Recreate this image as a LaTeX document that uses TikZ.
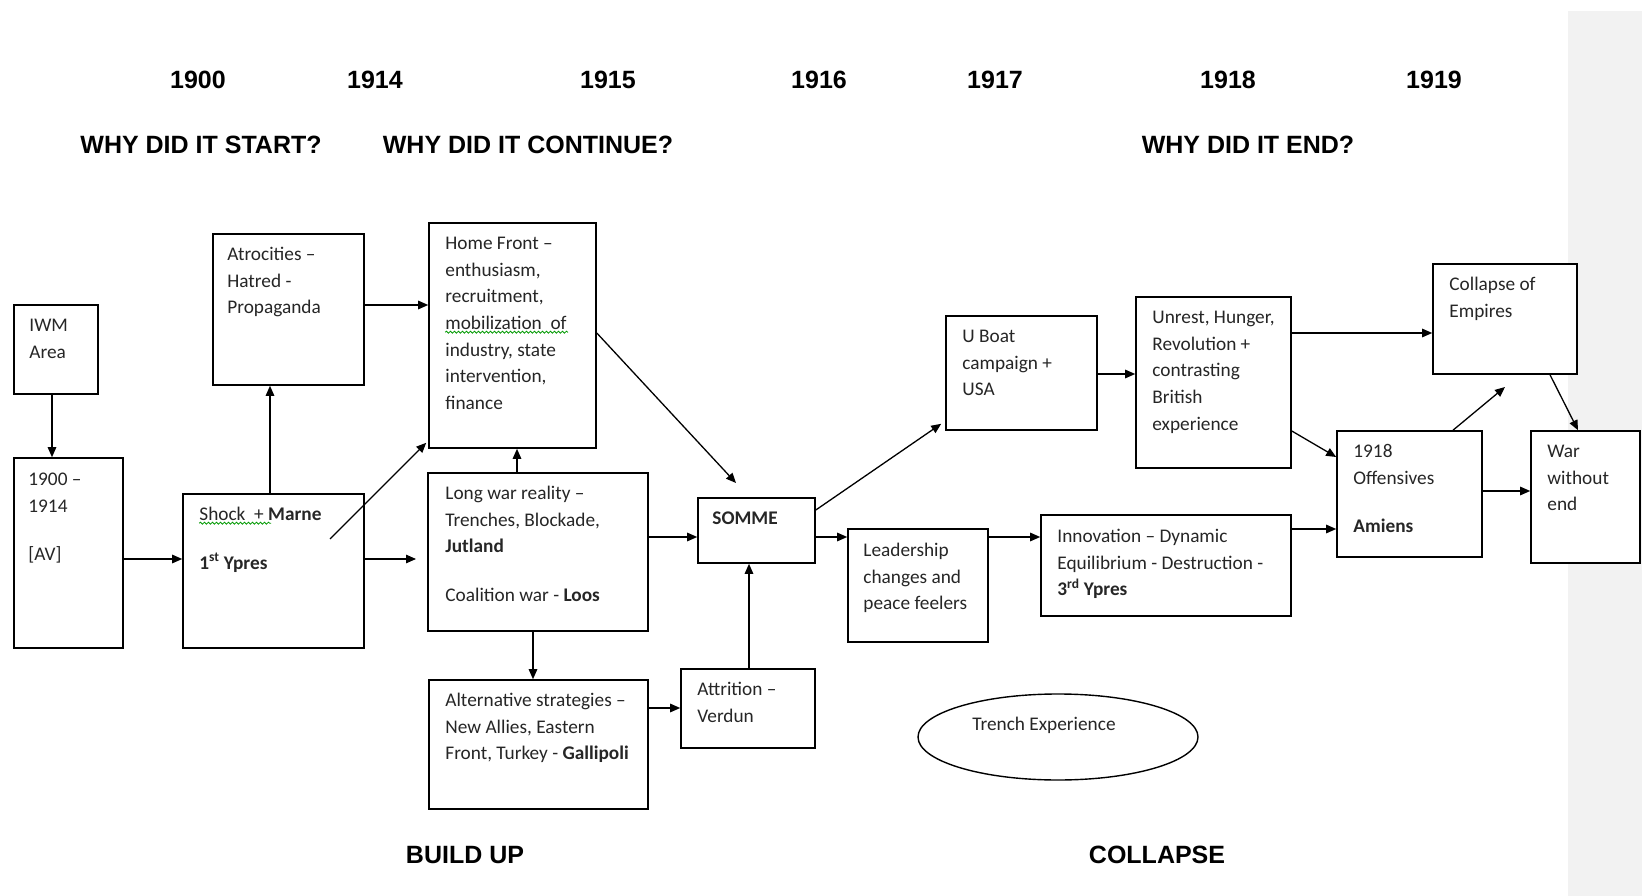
\documentclass[tikz,border=0pt]{standalone}
\usepackage{fontspec}
\setmainfont{Carlito}
\newfontfamily\headfont{Liberation Sans}
\usetikzlibrary{arrows.meta,calc,shapes.geometric,decorations.pathmorphing}
\definecolor{txtc}{HTML}{262626}
\definecolor{stripc}{HTML}{F2F2F2}
\newcommand{\fs}{\rule{0pt}{16pt}}
\begin{document}
\begin{tikzpicture}[x=1pt,y=-1pt,
  box/.style={draw=black, line width=1.6pt, fill=white, inner sep=0pt, rectangle},
  txt/.style={anchor=north west, align=left, inner sep=0pt, text=txtc, font=\fontsize{19.3}{26.7}\selectfont},
  head/.style={anchor=base, font=\headfont\bfseries\fontsize{25}{30}\selectfont, text=black, inner sep=0pt},
  arr/.style={line width=1.3pt, -{Triangle[length=10pt,width=8.5pt]}},
  squig/.style={draw=green!60!black, line width=0.8pt, decorate, decoration={snake, amplitude=1pt, segment length=4pt}}
]
\useasboundingbox (0,0) rectangle (1642,896);
\fill[stripc] (1568,11) rectangle (1642,896);

% headings
\node[head] (y1900) at (198,88.6) {1900};
\node[head] (y1914) at (375,88.6) {1914};
\node[head] (y1915) at (608,88.6) {1915};
\node[head] (y1916) at (819,88.6) {1916};
\node[head] (y1917) at (995,88.6) {1917};
\node[head] (y1918) at (1228,88.6) {1918};
\node[head] (y1919) at (1434,88.6) {1919};
\node[head] (hstart) at (201,153.5) {WHY DID IT START?};
\node[head] (hcont) at (528,153.5) {WHY DID IT CONTINUE?};
\node[head] (hend) at (1248,153.5) {WHY DID IT END?};
\node[head] (hbuild) at (465,863.5) {BUILD UP};
\node[head] (hcoll) at (1157,863.5) {COLLAPSE};

% boxes
\node[box, minimum width=84pt, minimum height=89pt] (iwm) at (56,349.5) {};
\node[box, minimum width=109pt, minimum height=190pt] (av) at (68.5,553) {};
\node[box, minimum width=181pt, minimum height=154pt] (shock) at (273.5,571) {};
\node[box, minimum width=151pt, minimum height=151pt] (atro) at (288.5,309.5) {};
\node[box, minimum width=167pt, minimum height=225pt] (home) at (512.5,335.5) {};
\node[box, minimum width=220pt, minimum height=158pt] (long) at (538,552) {};
\node[box, minimum width=219pt, minimum height=129pt] (alt) at (538.5,744.5) {};
\node[box, minimum width=117pt, minimum height=65pt] (somme) at (756.5,530.5) {};
\node[box, minimum width=134pt, minimum height=79pt] (attr) at (748,708.5) {};
\node[box, minimum width=151pt, minimum height=114pt] (uboat) at (1021.5,373) {};
\node[box, minimum width=140pt, minimum height=113pt] (lead) at (918,585.5) {};
\node[box, minimum width=155pt, minimum height=171pt] (unrest) at (1213.5,382.5) {};
\node[box, minimum width=250pt, minimum height=101pt] (innov) at (1166,565.5) {};
\node[box, minimum width=144pt, minimum height=110pt] (coll) at (1505,319) {};
\node[box, minimum width=145pt, minimum height=126pt] (off) at (1409.5,494) {};
\node[box, minimum width=109pt, minimum height=132pt] (war) at (1585.5,497) {};
\node[draw=black, line width=1.4pt, ellipse, fill=white, inner sep=0pt, minimum width=280pt, minimum height=86pt] (trench) at (1058,737) {};

% texts (first baseline about 27px below box top)
\node[txt] (tiwm) at ($(iwm.north west)+(16,11)$) {\fs IWM\\Area};
\node[txt] (tav) at ($(av.north west)+(15,12)$) {\fs 1900 –\\1914\\[22pt]{[AV]}};
\node[txt] (tshock) at ($(shock.north west)+(17,11)$) {\fs Shock\ \ + \textbf{Marne}\\[22pt]\textbf{1\textsuperscript{st} Ypres}};
\node[txt] (tatro) at ($(atro.north west)+(15,11)$) {\fs Atrocities –\\Hatred -\\Propaganda};
\node[txt] (thome) at ($(home.north west)+(17,11)$) {\fs Home Front –\\enthusiasm,\\recruitment,\\mobilization\ \ of\\industry, state\\intervention,\\finance};
\node[txt] (tlong) at ($(long.north west)+(18,11)$) {\fs Long war reality –\\Trenches, Blockade,\\\textbf{Jutland}\\[22pt]Coalition war - \textbf{Loos}};
\node[txt] (talt) at ($(alt.north west)+(17,11)$) {\fs Alternative strategies –\\New Allies, Eastern\\Front, Turkey - \textbf{Gallipoli}};
\node[txt] (tsomme) at ($(somme.north west)+(15,11)$) {\fs\textbf{SOMME}};
\node[txt] (tattr) at ($(attr.north west)+(17,11)$) {\fs Attrition –\\Verdun};
\node[txt] (tuboat) at ($(uboat.north west)+(17,11)$) {\fs U Boat\\campaign +\\USA};
\node[txt] (tlead) at ($(lead.north west)+(16,12)$) {\fs Leadership\\changes and\\peace feelers};
\node[txt] (tunrest) at ($(unrest.north west)+(17,11)$) {\fs Unrest, Hunger,\\Revolution +\\contrasting\\British\\experience};
\node[txt] (tinnov) at ($(innov.north west)+(17,12)$) {\fs Innovation – Dynamic\\Equilibrium - Destruction -\\\textbf{3\textsuperscript{rd} Ypres}};
\node[txt] (tcoll) at ($(coll.north west)+(17,11)$) {\fs Collapse of\\Empires};
\node[txt] (toff) at ($(off.north west)+(17,11)$) {\fs 1918\\Offensives\\[22pt]\textbf{Amiens}};
\node[txt] (twar) at ($(war.north west)+(17,11)$) {\fs War\\without\\end};
\node[txt, anchor=base] (ttrench) at (1044,730) {Trench Experience};

% spell-check squiggles
\draw[squig] ($(tshock.north west)+(0,19)$) -- ++(72,0);
\draw[squig] ($(thome.north west)+(0,99)$) -- ++(123,0);

% free ends
\coordinate (a5e) at (416,559);
\coordinate (d6s) at (330,539);
\coordinate (d10e) at (736,483);
\coordinate (d20e) at (1505,387);

% connectors
\draw[arr] ([xshift=-4pt]iwm.south) -- ([xshift=-4pt]iwm.south |- av.north);
\draw[arr] ([yshift=-6pt]av.east) -- ([yshift=-6pt]av.east -| shock.west);
\draw[arr] ([xshift=-3.5pt]shock.north) -- ([xshift=-3.5pt]shock.north |- atro.south);
\draw[arr] ([yshift=4.5pt]atro.east) -- ([yshift=4.5pt]atro.east -| home.west);
\draw[arr] (shock.east |- a5e) -- (a5e);
\draw[arr] (d6s) -- ([shift={(-2pt,6pt)}]home.south west);
\draw[arr] ([xshift=-21pt]long.north) -- ([xshift=-21pt]long.north |- home.south);
\draw[arr] ([xshift=-5pt]long.south) -- ([xshift=-5pt]long.south |- alt.north);
\draw[arr] ([yshift=15pt]long.east) -- ([yshift=15pt]long.east -| somme.west);
\draw[arr] ([yshift=2.5pt]home.east) -- (d10e);
\draw[arr] ([yshift=36.5pt]alt.east) -- ([yshift=36.5pt]alt.east -| attr.west);
\draw[arr] ([xshift=1pt]attr.north) -- ([xshift=1pt]attr.north |- somme.south);
\draw[arr] ([yshift=-6.5pt]somme.east) -- ([yshift=-6.5pt]somme.east -| lead.west);
\draw[arr] ([yshift=20.5pt]somme.east) -- ([shift={(-4pt,7pt)}]uboat.south west);
\draw[arr] ([yshift=48.5pt]lead.east) -- ([yshift=48.5pt]lead.east -| innov.west);
\draw[arr] ([yshift=-1pt]uboat.east) -- ([yshift=-1pt]uboat.east -| unrest.west);
\draw[arr] ([yshift=49.5pt]unrest.east) -- ([yshift=49.5pt]unrest.east -| coll.west);
\draw[arr] ([yshift=-48.5pt]unrest.east) -- ([yshift=37pt]off.west);
\draw[arr] ([yshift=36.5pt]innov.east) -- ([yshift=36.5pt]innov.east -| off.west);
\draw[arr] ([xshift=43.5pt]off.north) -- (d20e);
\draw[arr] ([xshift=45pt]coll.south) -- ([xshift=-7.5pt]war.north);
\draw[arr] ([yshift=3pt]off.east) -- ([yshift=3pt]off.east -| war.west);
\end{tikzpicture}
\end{document}
